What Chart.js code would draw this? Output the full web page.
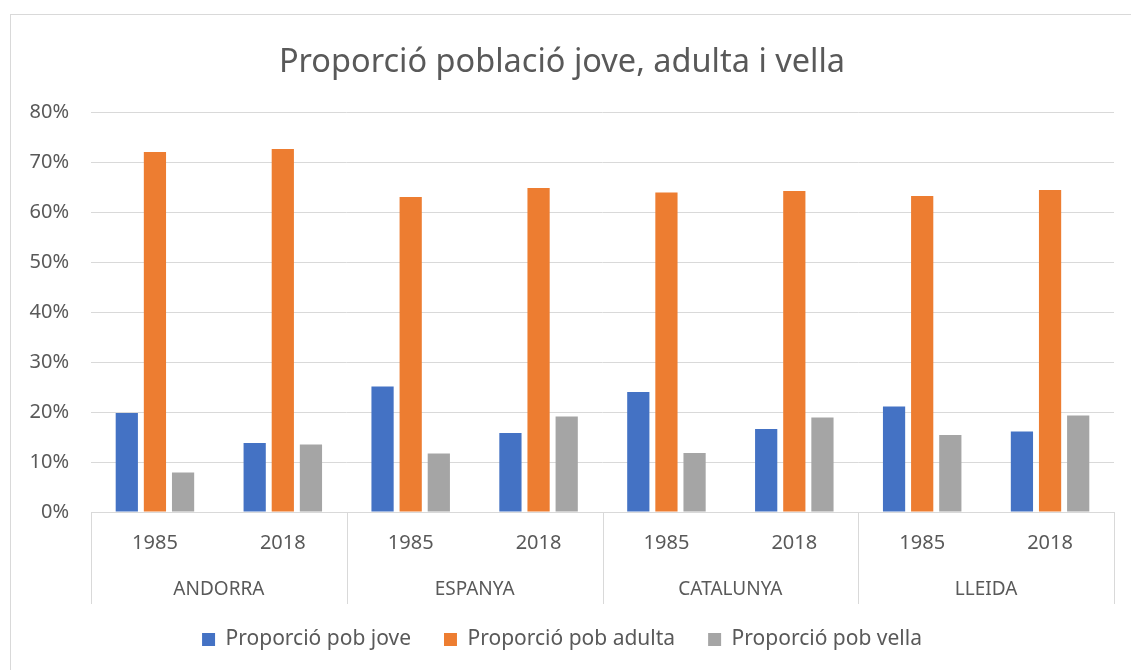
<!DOCTYPE html>
<html>
<head>
<meta charset="utf-8">
<script src="https://cdn.jsdelivr.net/npm/chart.js@4.4.1/dist/chart.umd.min.js"></script>
<style>
  body { margin: 0; background: #fff; }
  #wrap { position: relative; width: 1131px; height: 670px; }
  #frame { position: absolute; left: 10px; top: 14px; width: 1200px; height: 700px; border: 1px solid #d9d9d9; box-sizing: border-box; }
  canvas { position: absolute; left: 0; top: 0; }
</style>
</head>
<body>
<div id="wrap">
  <div id="frame"></div>
  <canvas id="myChart" width="1131" height="670"></canvas>
</div>
<script>
var years = ['1985', '2018', '1985', '2018', '1985', '2018', '1985', '2018'];
var countries = ['ANDORRA', 'ESPANYA', 'CATALUNYA', 'LLEIDA'];
var jove = [19.8, 13.8, 25.1, 15.8, 24.0, 16.6, 21.1, 16.1];
var adulta = [72.0, 72.6, 63.0, 64.8, 63.9, 64.2, 63.2, 64.4];
var vella = [7.9, 13.5, 11.7, 19.1, 11.8, 18.9, 15.4, 19.3];
var yTicks = [0, 10, 20, 30, 40, 50, 60, 70, 80];

var grey = '#d9d9d9';
var txt = '#595959';
var fam = '"Noto Sans", sans-serif';

// vertical separators between the country groups, under the axis line
var groupLines = {
  id: 'groupLines',
  afterDraw: function (chart) {
    var x2 = chart.scales.x2;
    var ctx = chart.ctx;
    var w = x2.width / countries.length;
    var y0 = chart.chartArea.bottom;
    ctx.save();
    ctx.strokeStyle = grey;
    ctx.lineWidth = 1;
    for (var i = 0; i <= countries.length; i++) {
      var px = Math.round(x2.left + i * w) + 0.5;
      ctx.beginPath();
      ctx.moveTo(px, y0);
      ctx.lineTo(px, y0 + 92);
      ctx.stroke();
    }
    ctx.restore();
  }
};

function chart() {
  var ctx = document.getElementById('myChart').getContext('2d');
  new Chart(ctx, {
    type: 'bar',
    data: {
      labels: years,
      datasets: [{
        label: 'Proporció pob jove',
        data: jove,
        backgroundColor: '#4472C4'
      }, {
        label: 'Proporció pob adulta',
        data: adulta,
        backgroundColor: '#ED7D31'
      }, {
        label: 'Proporció pob vella',
        data: vella,
        backgroundColor: '#A5A5A5'
      }]
    },
    options: {
      responsive: false,
      animation: false,
      categoryPercentage: 0.66,
      barPercentage: 0.79,
      layout: { padding: { left: 10, right: 17, top: 14, bottom: 10 } },
      plugins: {
        title: {
          display: true,
          text: 'Proporció població jove, adulta i vella',
          color: txt,
          font: { family: fam, size: 32.5, weight: 'normal' },
          padding: { top: 29, bottom: 30 }
        },
        legend: {
          position: 'bottom',
          labels: {
            color: txt,
            font: { family: fam, size: 21 },
            boxWidth: 13,
            boxHeight: 13,
            padding: 33
          }
        },
        tooltip: { enabled: false }
      },
      scales: {
        y: {
          min: 0,
          max: 80,
          afterBuildTicks: function (s) { s.ticks = yTicks.map(function (v) { return { value: v }; }); },
          afterFit: function (s) { s.width = 81; },
          grid: { color: grey, drawTicks: false },
          border: { display: false },
          ticks: {
            color: txt,
            padding: 22,
            font: { family: fam, size: 20 },
            callback: function (v) { return v + '%'; }
          }
        },
        x: {
          grid: { display: false },
          border: { color: grey },
          afterFit: function (s) { s.height = 58; },
          ticks: {
            color: txt,
            padding: 11,
            maxRotation: 0,
            font: { family: fam, size: 20 }
          }
        },
        x2: {
          type: 'category',
          position: 'bottom',
          labels: countries,
          grid: { display: false },
          border: { display: false },
          afterFit: function (s) { s.height = 26; },
          ticks: {
            color: txt,
            padding: 0,
            maxRotation: 0,
            font: { family: fam, size: 19 }
          }
        }
      }
    },
    plugins: [groupLines]
  });
}

chart();
</script>
</body>
</html>
